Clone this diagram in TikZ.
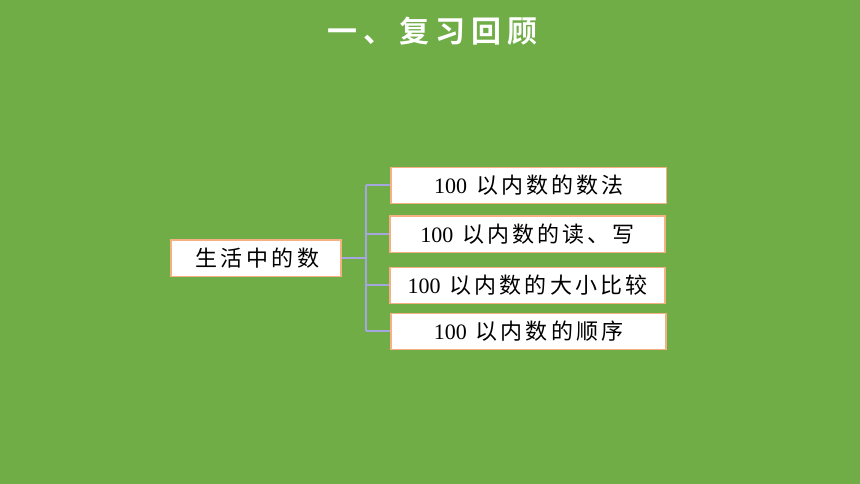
\documentclass[tikz,border=0pt]{standalone}
\usepackage{fontspec}
\setmainfont{Liberation Serif}
\newfontfamily\cjk[LetterSpace=14]{Noto Sans CJK SC}
\newfontfamily\cjkwide[LetterSpace=16]{Noto Sans CJK SC}
\newfontfamily\cjktitle[LetterSpace=20]{Noto Sans CJK SC Bold}
\definecolor{bg}{HTML}{70AD47}
\definecolor{peach}{HTML}{F4B183}
\definecolor{lav}{HTML}{A5A5E0}
\newcommand{\hund}{100\hspace{9pt}}
\tikzset{
  itembox/.style={draw=peach, line width=1.2pt, fill=white, inner sep=0pt, font=\fontsize{22}{24}\selectfont},
  link/.style={draw=lav, line width=1.8pt}
}
\begin{document}
\begin{tikzpicture}[x=1pt,y=-1pt]
\fill[bg] (0,0) rectangle (860,484);
\useasboundingbox (0,0) rectangle (860,484);
\node[text=white, font=\fontsize{30}{32}\selectfont\cjktitle] (title) at (432,31) {一、复习回顾};
\coordinate (j) at (366,258.3);
\coordinate (j1) at (366,185.3);
\coordinate (j2) at (366,234.3);
\coordinate (j3) at (366,285.3);
\coordinate (j4) at (366,331.3);
\draw[link] (j1) -- (j4);
\draw[link] (j) -- (341,258.3);
\draw[link] (j1) -- (392,185.3);
\draw[link] (j2) -- (391,234.3);
\draw[link] (j3) -- (391,285.3);
\draw[link] (j4) -- (392,331.3);
\node[itembox, minimum width=170pt, minimum height=36.5pt] (root) at (256,258.3) {\hspace*{3pt}\cjkwide 生活中的数};
\node[itembox, minimum width=275.5pt, minimum height=36pt] (b1) at (528.8,185.3) {\hund{\cjk 以内数的数法}};
\node[itembox, minimum width=275pt, minimum height=36.5pt] (b2) at (527.5,234.3) {\hund{\cjk 以内数的读、写}};
\node[itembox, minimum width=275pt, minimum height=36pt] (b3) at (527.5,285.3) {\hund{\cjk 以内数的大小比较}};
\node[itembox, minimum width=275pt, minimum height=36pt] (b4) at (528.5,331.3) {\hund{\cjk 以内数的顺序}};
\end{tikzpicture}
\end{document}
